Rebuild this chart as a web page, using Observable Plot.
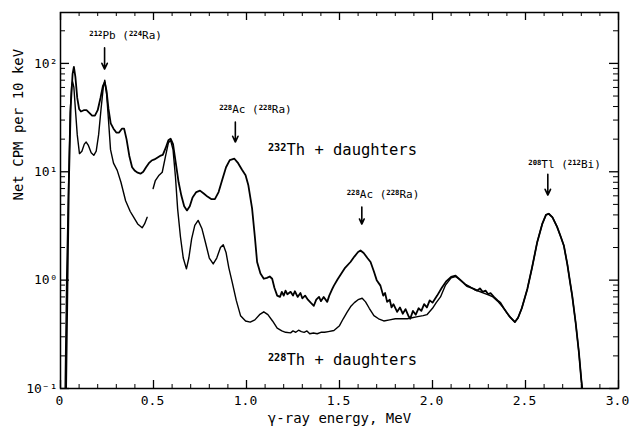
<!DOCTYPE html>
<html><head><meta charset="utf-8">
<script src="https://cdn.jsdelivr.net/npm/d3@7"></script>
<script src="https://cdn.jsdelivr.net/npm/@observablehq/plot@0.6"></script>
<style>
body{margin:0;background:#fff}
svg{font-family:"DejaVu Sans Mono",monospace}
</style>
</head><body><div id="chart"></div>
<script>
// 232Th + daughters spectrum (energy MeV, net CPM per 10 keV)
const th232E = [0.030,0.038,0.045,0.055,0.065,0.072,0.080,0.090,0.100,0.110,0.125,0.140,0.155,0.170,0.185,0.200,0.215,0.228,0.238,0.248,0.258,0.270,0.285,0.300,0.315,0.330,0.342,0.355,0.370,0.385,0.400,0.415,0.430,0.445,0.460,0.475,0.490,0.505,0.520,0.535,0.550,0.565,0.580,0.592,0.605,0.620,0.635,0.650,0.665,0.680,0.695,0.710,0.730,0.750,0.770,0.790,0.810,0.830,0.850,0.870,0.890,0.910,0.935,0.955,0.975,0.995,1.010,1.030,1.045,1.057,1.075,1.093,1.110,1.125,1.138,1.150,1.165,1.180,1.190,1.200,1.210,1.220,1.237,1.250,1.260,1.275,1.290,1.300,1.315,1.330,1.345,1.362,1.375,1.390,1.400,1.415,1.434,1.445,1.460,1.470,1.490,1.510,1.530,1.559,1.580,1.600,1.613,1.630,1.650,1.667,1.685,1.700,1.720,1.735,1.745,1.756,1.770,1.780,1.790,1.810,1.825,1.840,1.855,1.870,1.880,1.895,1.910,1.925,1.940,1.955,1.970,1.985,2.000,2.025,2.050,2.075,2.100,2.124,2.145,2.165,2.185,2.200,2.222,2.240,2.255,2.270,2.285,2.300,2.312,2.330,2.350,2.365,2.383,2.400,2.420,2.443,2.460,2.480,2.510,2.535,2.563,2.590,2.610,2.625,2.645,2.670,2.690,2.706,2.725,2.740,2.751,2.770,2.787,2.800,2.805];
const th232C = [0.1,1.0,8,40,80,93,75,48,38,36,37,37,35,33,33,37,48,62,67,55,38,28,25,23,23,25,25,20,14,11,10.2,9.8,9.6,10.0,11,12,12.7,13,13.5,14,14.3,16.5,19.5,20.2,18,12,8,6,4.8,4.4,4.8,5.8,6.5,6.7,6.3,5.9,5.6,5.6,6.5,8.5,11,12.8,13.2,12,10.5,9.3,7.5,4.6,2.5,1.47,1.15,1.03,1.05,1.08,1.03,0.85,0.72,0.70,0.78,0.72,0.80,0.74,0.78,0.72,0.79,0.70,0.76,0.68,0.72,0.66,0.62,0.58,0.66,0.70,0.64,0.70,0.63,0.72,0.82,0.89,1.02,1.15,1.3,1.47,1.65,1.82,1.88,1.78,1.6,1.47,1.2,1.0,0.89,0.72,0.76,0.63,0.66,0.56,0.60,0.51,0.56,0.49,0.54,0.47,0.44,0.52,0.48,0.55,0.52,0.60,0.56,0.65,0.62,0.72,0.85,0.98,1.07,1.1,1.02,0.95,0.88,0.86,0.83,0.80,0.84,0.78,0.80,0.74,0.76,0.70,0.65,0.62,0.55,0.50,0.45,0.41,0.45,0.55,0.83,1.3,2.24,3.3,4.0,4.1,3.8,3.1,2.5,2.09,1.4,0.95,0.72,0.40,0.216,0.12,0.1];

// 228Th + daughters spectrum (null = gap in the trace)
const th228E = [0.025,0.033,0.042,0.052,0.060,0.065,0.072,0.080,0.090,0.102,0.115,0.128,0.138,0.150,0.165,0.179,0.192,0.205,0.218,0.230,0.238,0.248,0.258,0.269,0.285,0.305,0.325,0.350,0.375,0.394,0.415,0.439,0.452,0.466,null,0.498,0.510,0.530,0.547,0.565,0.580,0.592,0.605,0.618,0.630,0.645,0.660,0.677,0.690,0.705,0.722,0.740,0.760,0.780,0.800,0.821,0.840,0.860,0.875,0.890,0.905,0.923,0.945,0.968,0.995,1.020,1.045,1.070,1.093,1.115,1.140,1.165,1.190,1.210,1.237,1.250,1.265,1.280,1.295,1.310,1.325,1.340,1.360,1.380,1.400,1.420,1.440,1.470,1.500,1.520,1.541,1.560,1.580,1.600,1.622,1.640,1.660,1.685,1.710,1.738,1.770,1.800,1.830,1.864,1.890,1.920,1.950,1.970,2.000,2.020,2.043,2.070,2.100,2.124,2.150,2.175,2.200,2.225,2.250,2.275,2.300,2.325,2.350,2.380,2.410,2.443,2.460,2.480,2.510,2.535,2.563,2.590,2.610,2.625,2.645,2.670,2.690,2.706,2.725,2.740,2.751,2.770,2.787,2.800,2.805];
const th228C = [0.1,1.0,6,35,62,68,60,38,22,14.7,15.5,18,18.8,17.5,15,14.2,15.5,22,38,60,70,52,30,16,12,10.3,8,5.4,4.3,3.8,3.3,3.04,3.3,3.8,null,7.0,8.3,9.3,9.9,14,18.5,19.5,16,9,4.5,2.5,1.6,1.27,1.6,2.4,3.2,3.56,3.0,2.2,1.6,1.41,1.6,2.0,2.12,1.8,1.3,0.96,0.65,0.47,0.42,0.41,0.43,0.48,0.51,0.48,0.42,0.36,0.34,0.33,0.326,0.34,0.33,0.345,0.335,0.33,0.34,0.32,0.325,0.32,0.33,0.33,0.335,0.343,0.38,0.44,0.506,0.57,0.62,0.66,0.68,0.63,0.55,0.47,0.44,0.42,0.43,0.44,0.44,0.44,0.45,0.46,0.47,0.48,0.55,0.62,0.70,0.90,1.05,1.08,1.0,0.92,0.87,0.82,0.79,0.76,0.73,0.70,0.64,0.56,0.47,0.41,0.45,0.55,0.83,1.3,2.24,3.3,4.0,4.1,3.8,3.1,2.5,2.09,1.4,0.95,0.72,0.40,0.216,0.12,0.1];

// axis ticks
const xTicks = [0,0.5,1,1.5,2,2.5,3];
const xTickLabels = ["0","0.5","1.0","1.5","2.0","2.5","3.0"];
const xMinorTicks = [0.1,0.2,0.3,0.4,0.6,0.7,0.8,0.9,1.1,1.2,1.3,1.4,1.6,1.7,1.8,1.9,2.1,2.2,2.3,2.4,2.6,2.7,2.8,2.9];
const yTicks = [0.1,1,10,100];
const yTickLabels = ["10⁻¹","10⁰","10¹","10²"];
const yMinorTicks = [0.2,0.3,0.4,0.5,0.6,0.7,0.8,0.9,2,3,4,5,6,7,8,9,20,30,40,50,60,70,80,90,200];

// annotations
const peakLabels = ["²¹²Pb (²²⁴Ra)","²²⁸Ac (²²⁸Ra)","²²⁸Ac (²²⁸Ra)","²⁰⁸Tl (²¹²Bi)"];
const peakLabelX = [0.35,1.048,1.734,2.71];
const peakLabelY = [183,37.9,6.22,11.8];
const arrowX = [0.237,0.94,1.62,2.62];
const arrowTop = [139,28.7,4.72,9.5];
const arrowTip = [88.6,18.8,3.29,6.09];
const seriesLabels = ["²³²Th + daughters","²²⁸Th + daughters"];
const seriesLabelX = [1.516,1.516];
const seriesLabelY = [15.85,0.183];
const xLabel = "γ-ray energy, MeV";
const yLabel = "Net CPM per 10 keV";

const th232 = th232E.map((e,i)=>({e, c: th232C[i]}));
const th228 = th228E.map((e,i)=>({e, c: th228C[i] == null ? NaN : th228C[i]}));
const peaks = peakLabels.map((t,i)=>({t, x: peakLabelX[i], y: peakLabelY[i]}));
const arrows = arrowX.map((x,i)=>({x, y1: arrowTop[i], y2: arrowTip[i]}));
const series = seriesLabels.map((t,i)=>({t, x: seriesLabelX[i], y: seriesLabelY[i]}));

const W=629, H=433, mL=60, mR=11, mT=12, mB=45;
const iw = W-mL-mR, ih = H-mT-mB;

const chart = Plot.plot({
  width: W, height: H,
  marginLeft: mL, marginRight: mR, marginTop: mT, marginBottom: mB,
  style: {fontFamily: "'DejaVu Sans Mono', monospace", fontSize: "14px", background: "#fff", color: "#000"},
  x: {domain: [0,3]},
  y: {type: "log", domain: [0.1, 295]},
  marks: [
    Plot.axisX(xTicks, {tickSize: 0, tickPadding: 7, fontSize: 13, dx: -1, label: null,
      tickFormat: d => xTickLabels[xTicks.indexOf(d)]}),
    Plot.axisY(yTicks, {tickSize: 0, tickPadding: 3, fontSize: 13, label: null,
      tickFormat: d => yTickLabels[yTicks.indexOf(d)]}),
    // inward ticks: bottom, top, left, right
    Plot.ruleX(xMinorTicks, {insetTop: ih-4, stroke: "#000"}),
    Plot.ruleX(xTicks, {insetTop: ih-8, stroke: "#000", strokeWidth: 1.3}),
    Plot.ruleX(xMinorTicks, {insetBottom: ih-4, stroke: "#000"}),
    Plot.ruleX(xTicks, {insetBottom: ih-8, stroke: "#000", strokeWidth: 1.3}),
    Plot.ruleY(yMinorTicks, {insetRight: iw-5, stroke: "#000"}),
    Plot.ruleY(yTicks, {insetRight: iw-9, stroke: "#000", strokeWidth: 1.3}),
    Plot.ruleY(yMinorTicks, {insetLeft: iw-5, stroke: "#000"}),
    Plot.ruleY(yTicks, {insetLeft: iw-9, stroke: "#000", strokeWidth: 1.3}),
    Plot.frame({stroke: "#000", strokeWidth: 1.5}),
    Plot.line(th228, {x: "e", y: "c", stroke: "#000", strokeWidth: 1.4, clip: true}),
    Plot.line(th232, {x: "e", y: "c", stroke: "#000", strokeWidth: 1.8, clip: true}),
    Plot.arrow(arrows, {x1: "x", y1: "y1", x2: "x", y2: "y2", stroke: "#000", strokeWidth: 1.6, headLength: 6, headAngle: 50}),
    Plot.text(peaks, {x: "x", y: "y", text: "t", fontSize: 11, fill: "#000"}),
    Plot.text(series, {x: "x", y: "y", text: "t", fontSize: 15.5, fill: "#000"}),
    Plot.text([xLabel], {frameAnchor: "bottom", dy: 34, text: d => d, fontSize: 14, fill: "#000"}),
    Plot.text([yLabel], {frameAnchor: "left", dx: -42, rotate: -90, text: d => d, fontSize: 14, fill: "#000"})
  ]
});

// render Unicode superscript isotope numbers as compact raised tspans (annotations only)
const supMap = {"⁰":"0","¹":"1","²":"2","³":"3","⁴":"4","⁵":"5","⁶":"6","⁷":"7","⁸":"8","⁹":"9"};
d3.select(chart).selectAll("text").each(function() {
  if (this.querySelector("tspan")) return;
  const s = this.textContent;
  if (s.startsWith("10") || !/[⁰¹²³⁴⁵⁶⁷⁸⁹]/.test(s)) return;
  const parts = s.match(/[⁰¹²³⁴⁵⁶⁷⁸⁹]+|[^⁰¹²³⁴⁵⁶⁷⁸⁹]+/g);
  this.textContent = "";
  for (const p of parts) {
    const isSup = /[⁰¹²³⁴⁵⁶⁷⁸⁹]/.test(p[0]);
    const t = document.createElementNS("http://www.w3.org/2000/svg", "tspan");
    if (isSup) {
      t.textContent = p.replace(/./g, c => supMap[c]);
      t.setAttribute("font-size", "0.66em");
      t.setAttribute("baseline-shift", "45%");
      t.setAttribute("font-weight", "bold");
    } else {
      t.textContent = p;
    }
    this.appendChild(t);
  }
});
document.getElementById("chart").append(chart);
</script>
</body></html>
